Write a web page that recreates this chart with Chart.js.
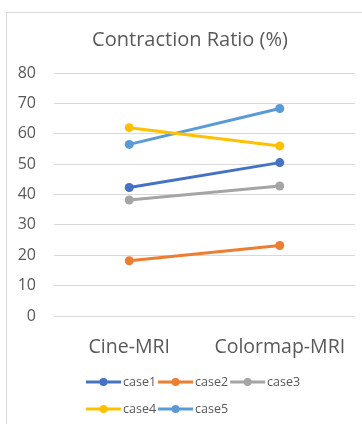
<!DOCTYPE html>
<html>
<head>
<meta charset="utf-8">
<script src="https://cdn.jsdelivr.net/npm/chart.js@4.4.1/dist/chart.umd.min.js"></script>
<style>
  html, body { margin: 0; padding: 0; background: #ffffff; }
  #wrap { position: relative; width: 362px; height: 424px; }
</style>
</head>
<body>
<div id="wrap"><canvas id="chart" width="362" height="424"></canvas></div>
<script>
// Categories (methods) and contraction ratio per case, in percent
const methods = ['Cine-MRI', 'Colormap-MRI'];
const caseNames = ['case1', 'case2', 'case3', 'case4', 'case5'];
const case1 = [42.3, 50.5];
const case2 = [18.2, 23.2];
const case3 = [38.2, 42.8];
const case4 = [62.0, 56.0];
const case5 = [56.5, 68.3];
const yTicks = [0, 10, 20, 30, 40, 50, 60, 70, 80];

const seriesValues = [case1, case2, case3, case4, case5];
const seriesColors = ['#4472C4', '#ED7D31', '#A5A5A5', '#FFC000', '#5B9BD5'];

const FONT = '"Open Sans", "Noto Sans", sans-serif';
const TEXT = '#595959';
const GRID = '#D9D9D9';

// Thin frame around the whole chart
const framePlugin = {
  id: 'frame',
  beforeDraw(chart) {
    const ctx = chart.ctx;
    ctx.save();
    ctx.fillStyle = '#ffffff';
    ctx.fillRect(0, 0, chart.width, chart.height);
    ctx.strokeStyle = GRID;
    ctx.lineWidth = 1;
    ctx.strokeRect(6.5, 12.5, chart.width + 10, chart.height + 10);
    ctx.restore();
  }
};

// Centre the title over the framed area rather than the full canvas
const titleShift = {
  id: 'titleShift',
  afterLayout(chart, args, opts) {
    const t = chart.titleBlock;
    if (t) {
      t.left += opts.left;
      t.width = t.right - t.left;
    }
  }
};

// Legend below the axis: line-with-marker swatch followed by the series name,
// three entries per row, rows left aligned
const caseLegend = {
  id: 'caseLegend',
  afterDraw(chart, args, opts) {
    const ctx = chart.ctx;
    ctx.save();
    ctx.font = opts.size + 'px ' + FONT;
    ctx.textBaseline = 'middle';
    ctx.textAlign = 'left';
    let x = opts.left;
    chart.data.datasets.forEach((ds, i) => {
      const row = Math.floor(i / opts.perRow);
      const y = opts.top + row * opts.rowGap;
      if (i % opts.perRow === 0) x = opts.left;
      ctx.strokeStyle = ds.borderColor;
      ctx.lineWidth = 3;
      ctx.beginPath();
      ctx.moveTo(x, y);
      ctx.lineTo(x + opts.swatch, y);
      ctx.stroke();
      ctx.fillStyle = ds.borderColor;
      ctx.beginPath();
      ctx.arc(x + opts.swatch / 2, y, 4, 0, Math.PI * 2);
      ctx.fill();
      ctx.fillStyle = TEXT;
      const tx = x + opts.swatch + 2;
      ctx.fillText(ds.label, tx, y + 0.5);
      x = tx + ctx.measureText(ds.label).width + 2;
    });
    ctx.restore();
  }
};

const datasets = caseNames.map((name, i) => ({
  label: name,
  data: seriesValues[i],
  borderColor: seriesColors[i],
  backgroundColor: seriesColors[i],
  pointBackgroundColor: seriesColors[i],
  pointBorderColor: seriesColors[i],
  borderWidth: 3,
  pointRadius: 4.5,
  pointBorderWidth: 0,
  tension: 0
}));

new Chart(document.getElementById('chart'), {
  type: 'line',
  data: { labels: methods, datasets },
  plugins: [framePlugin, titleShift, caseLegend],
  options: {
    responsive: false,
    animation: false,
    layout: { padding: { left: 0, right: 7, top: 0, bottom: 58 } },
    plugins: {
      legend: { display: false },
      tooltip: { enabled: false },
      title: {
        display: true,
        text: 'Contraction Ratio (%)',
        color: TEXT,
        font: { family: FONT, size: 20, weight: 'normal' },
        padding: { top: 28, bottom: 21 }
      },
      titleShift: { left: 25 },
      caseLegend: { left: 86, top: 382, rowGap: 27, perRow: 3, swatch: 35, size: 12.5 }
    },
    scales: {
      x: {
        type: 'category',
        offset: true,
        grid: { display: false },
        border: { display: false },
        ticks: {
          color: TEXT,
          padding: 12,
          maxRotation: 0,
          font: { family: FONT, size: 19.5 }
        },
        afterFit(scale) { scale.height = 50; }
      },
      y: {
        min: 0,
        max: 80,
        afterBuildTicks(scale) { scale.ticks = yTicks.map(v => ({ value: v })); },
        grid: { color: GRID, lineWidth: 1, drawTicks: false },
        border: { display: false },
        ticks: {
          color: TEXT,
          padding: 18,
          font: { family: FONT, size: 16 }
        },
        afterFit(scale) { scale.width = 54; }
      }
    }
  }
});
</script>
</body>
</html>
